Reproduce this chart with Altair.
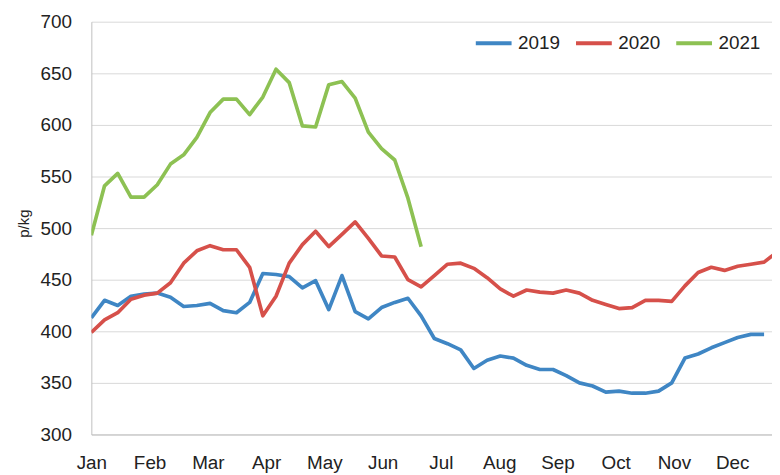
import altair as alt
import pandas as pd

months = ["Jan", "Feb", "Mar", "Apr", "May", "Jun", "Jul", "Aug", "Sep", "Oct", "Nov", "Dec"]
years = ["2019", "2020", "2021"]
colors = ["#3F86C4", "#D6504A", "#8DC153"]

y2019 = [413, 430, 425, 434, 436, 437, 433, 424, 425, 427, 420, 418, 428, 456, 455, 453,
         442, 449, 421, 454, 419, 412, 423, 428, 432, 415, 393, 388, 382, 364, 372, 376,
         374, 367, 363, 363, 357, 350, 347, 341, 342, 340, 340, 342, 350, 374, 378, 384,
         389, 394, 397, 397]
y2020 = [399, 411, 418, 431, 435, 437, 447, 466, 478, 483, 479, 479, 462, 415, 434, 466,
         484, 497, 482, 494, 506, 490, 473, 472, 450, 443, 454, 465, 466, 461, 452, 441,
         434, 440, 438, 437, 440, 437, 430, 426, 422, 423, 430, 430, 429, 444, 457, 462,
         459, 463, 465, 467, 477]
y2021 = [493, 541, 553, 530, 530, 542, 562, 571, 588, 612, 625, 625, 610, 627, 654, 641,
         599, 598, 639, 642, 626, 593, 577, 566, 529, 482]

rows = []
for yr, vals in zip(years, [y2019, y2020, y2021]):
    for i, v in enumerate(vals):
        rows.append({"week": i, "price": v, "year": yr})
df = pd.DataFrame(rows)

month_pos = [i * 53 / 12 for i in range(12)]
label_expr = "[" + ",".join("'" + m + "'" for m in months) + "][round(datum.value*12/53)]"

FONT = "Liberation Sans"

chart = alt.Chart(df).mark_line(strokeWidth=3.7, strokeJoin="round", clip=True).encode(
    x=alt.X("week:Q",
            scale=alt.Scale(domain=[0, 51.6], nice=False, zero=False),
            axis=alt.Axis(values=month_pos, labelExpr=label_expr, title=None, ticks=False,
                          grid=False, labelPadding=19, labelFontSize=19, labelFont=FONT,
                          labelColor="#222222", domainColor="#BFBFBF", labelFlush=False,
                          labelOverlap=False)),
    y=alt.Y("price:Q",
            scale=alt.Scale(domain=[300, 700], nice=False, zero=False),
            axis=alt.Axis(values=list(range(300, 701, 50)), title="p/kg", ticks=False,
                          grid=True, gridColor="#D9D9D9", domainColor="#BFBFBF",
                          labelPadding=20, labelFontSize=19, labelFont=FONT,
                          labelColor="#222222", titleFont=FONT, titleFontSize=15,
                          titleFontWeight="normal", titleColor="#222222",
                          titleX=-60, titleY=203, titleAngle=-90, titleBaseline="bottom",
                          titleAlign="center")),
    color=alt.Color("year:N",
                    scale=alt.Scale(domain=years, range=colors),
                    legend=alt.Legend(title=None, orient="none", legendX=385, legendY=1,
                                      direction="horizontal", symbolType="stroke",
                                      symbolSize=1300, symbolStrokeWidth=4,
                                      labelFontSize=19, labelFont=FONT, labelColor="#222222",
                                      columnPadding=7, labelOffset=4, padding=0)),
    order="week:Q",
).properties(
    width=686, height=416,
    autosize=alt.AutoSizeParams(type="none"),
    padding={"left": 84, "top": 12, "right": 0, "bottom": 38},
    background="white",
).configure_view(stroke=None)

chart.save("out.html", embed_options={"renderer": "svg", "actions": False})
